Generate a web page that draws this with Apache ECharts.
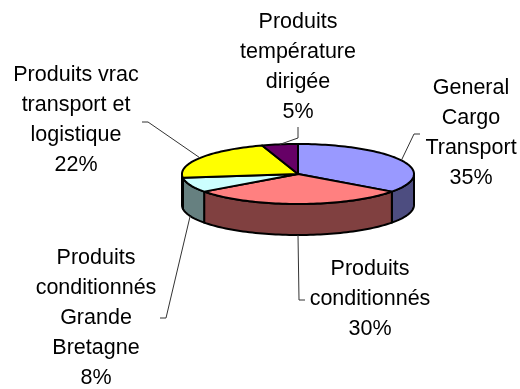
<!DOCTYPE html>
<html>
<head>
<meta charset="utf-8">
<title>Pie</title>
<script src="https://cdn.jsdelivr.net/npm/echarts@6/dist/echarts.min.js"></script>
<style>
  html, body { margin: 0; padding: 0; background: #fff; }
  #chart { width: 520px; height: 389px; }
</style>
</head>
<body>
<div id="chart"></div>
<script>
// data
var categories = ['General\nCargo\nTransport', 'Produits\nconditionnés', 'Produits\nconditionnés\nGrande\nBretagne', 'Produits vrac\ntransport et\nlogistique', 'Produits\ntempérature\ndirigée'];
var shares = [35, 30, 8, 22, 5];
var topColors = ['#9999ff', '#ff8080', '#ccffff', '#ffff00', '#660066'];
var sideColors = ['#4d4d80', '#804040', '#668080', '#808000', '#330033'];

// label centre + leader line elbow, same order as categories
var labelPos = [[471, 133], [370, 299], [96, 318], [76, 120], [298, 67]];
var leaderEnds = [
  [[414, 134], [420, 134]],
  [[299, 300], [305, 300]],
  [[166, 318], [160, 318]],
  [[148, 122], [142, 122]],
  [[298, 138], [298, 127]]
];

// pie geometry
var cx = 298, cy = 174, rx = 116, ry = 30, depth = 31;
var total = shares.reduce(function (a, b) { return a + b; }, 0);

function toRad(share) { return share / total * Math.PI * 2; }

// angle 0 is 12 o'clock, clockwise
function rim(t, drop) {
  return [cx + rx * Math.sin(t), cy - ry * Math.cos(t) + (drop || 0)];
}

function arcPoints(from, to, drop) {
  var pts = [];
  var n = Math.max(2, Math.ceil((to - from) / 0.03));
  for (var i = 0; i <= n; i++) {
    pts.push(rim(from + (to - from) * i / n, drop));
  }
  return pts;
}

function renderSlice(params, api) {
  var i = params.dataIndex;
  var before = shares.slice(0, i).reduce(function (a, b) { return a + b; }, 0);
  var value = api.value(0);
  var start = toRad(before);
  var end = toRad(before + value);
  var mid = (start + end) / 2;
  var children = [];
  var edge = { stroke: '#000', lineWidth: 2, lineJoin: 'round' };

  // outer wall, only the part on the front half shows
  var wallFrom = Math.max(start, Math.PI / 2);
  var wallTo = Math.min(end, Math.PI * 3 / 2);
  if (wallTo > wallFrom) {
    var wall = arcPoints(wallFrom, wallTo, 0).concat(arcPoints(wallFrom, wallTo, depth).reverse());
    children.push({
      type: 'polygon',
      z2: 1,
      shape: { points: wall },
      style: Object.assign({ fill: sideColors[i] }, edge)
    });
  }

  // top face
  children.push({
    type: 'polygon',
    z2: 2,
    shape: { points: [[cx, cy]].concat(arcPoints(start, end, 0)) },
    style: Object.assign({ fill: topColors[i] }, edge)
  });

  // leader line
  var anchor = rim(mid, Math.cos(mid) < 0 ? depth : 0);
  children.push({
    type: 'polyline',
    z2: 3,
    shape: { points: [anchor].concat(leaderEnds[i]) },
    style: { fill: null, stroke: '#333', lineWidth: 1 }
  });

  // label
  children.push({
    type: 'text',
    z2: 4,
    style: {
      x: labelPos[i][0],
      y: labelPos[i][1],
      text: categories[i] + '\n' + value + '%',
      fill: '#000',
      font: '21.5px "Liberation Sans", Arial, sans-serif',
      lineHeight: 30,
      align: 'center',
      verticalAlign: 'middle'
    }
  });

  return { type: 'group', children: children };
}

var chart = echarts.init(document.getElementById('chart'), null, { renderer: 'canvas' });
chart.setOption({
  animation: false,
  backgroundColor: '#fff',
  series: [{
    type: 'custom',
    coordinateSystem: 'none',
    renderItem: renderSlice,
    data: shares
  }]
});
</script>
</body>
</html>
